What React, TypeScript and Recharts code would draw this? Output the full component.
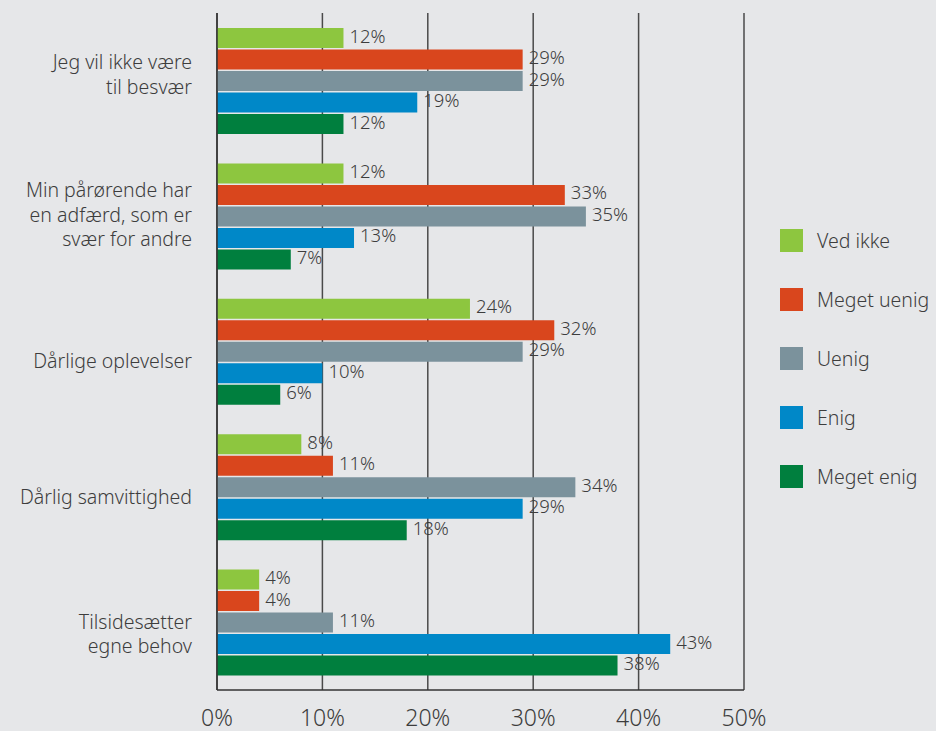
import React from 'react';
import { BarChart, Bar, XAxis, YAxis, CartesianGrid, LabelList } from 'recharts';

const categories = [
  ['Jeg vil ikke være', 'til besvær'],
  ['Min pårørende har', 'en adfærd, som er', 'svær for andre'],
  ['Dårlige oplevelser'],
  ['Dårlig samvittighed'],
  ['Tilsidesætter', 'egne behov'],
];

const vedIkke = [12, 12, 24, 8, 4];
const megetUenig = [29, 33, 32, 11, 4];
const uenig = [29, 35, 29, 34, 11];
const enig = [19, 13, 10, 29, 43];
const megetEnig = [12, 7, 6, 18, 38];

const xTicks = [0, 10, 20, 30, 40, 50];

const series = [
  { key: 'vedIkke', name: 'Ved ikke', color: '#8dc63f' },
  { key: 'megetUenig', name: 'Meget uenig', color: '#d9461d' },
  { key: 'uenig', name: 'Uenig', color: '#7b929c' },
  { key: 'enig', name: 'Enig', color: '#0088c8' },
  { key: 'megetEnig', name: 'Meget enig', color: '#007f3e' },
];

const data = categories.map((lines, i) => ({
  name: lines.join(' '),
  vedIkke: vedIkke[i],
  megetUenig: megetUenig[i],
  uenig: uenig[i],
  enig: enig[i],
  megetEnig: megetEnig[i],
}));

const FONT = '"Noto Sans", "Open Sans", sans-serif';
const TEXT = '#3d3d3d';
// vertical nudge of each category label relative to its band centre
const labelShift = [-7, -2.5, 8, 9, 10.5];

const CategoryTick = (props: any) => {
  const { x, y, payload } = props;
  const lines: string[] = categories[payload.index] || [payload.value];
  const lh = 24.5;
  const start = y + (labelShift[payload.index] || 0) - ((lines.length - 1) * lh) / 2;
  return (
    <text x={x - 17} y={start} textAnchor="end" fill={TEXT} fontSize={19.5} fontFamily={FONT} fontWeight={300} dominantBaseline="central">
      {lines.map((l, i) => (
        <tspan key={i} x={x - 17} y={start + i * lh}>{l}</tspan>
      ))}
    </text>
  );
};

export default function App() {
  return (
    <div style={{ position: 'absolute', left: 0, top: 0, width: 936, height: 731, background: '#e6e7e9', overflow: 'hidden' }}>
      <BarChart
        width={936}
        height={731}
        data={data}
        layout="vertical"
        margin={{ top: 13, right: 192, bottom: 0, left: 0 }}
        barSize={20}
        barGap={1.5}
        style={{ overflow: 'visible' }}
      >
        <CartesianGrid horizontal={false} vertical stroke="#4a4a4a" strokeWidth={1.5} />
        <XAxis
          type="number"
          domain={[0, 50]}
          ticks={xTicks}
          tickFormatter={(v) => `${v}%`}
          height={41}
          axisLine={{ stroke: '#333', strokeWidth: 1.5 }}
          tickLine={false}
          interval={0}
          tick={{ fill: TEXT, fontSize: 23, fontFamily: FONT, fontWeight: 300, dy: 12 }}
        />
        <YAxis
          type="category"
          dataKey="name"
          width={217}
          axisLine={{ stroke: '#333', strokeWidth: 1.5 }}
          tickLine={false}
          tick={<CategoryTick />}
          interval={0}
        />
        {series.map((s) => (
          <Bar key={s.key} dataKey={s.key} name={s.name} fill={s.color} isAnimationActive={false}>
            <LabelList
              dataKey={s.key}
              position="right"
              offset={6}
              dy={-2}
              formatter={(v: any) => `${v}%`}
              style={{ fill: TEXT, fontSize: 18.5, fontFamily: FONT, fontWeight: 300 }}
            />
          </Bar>
        ))}
      </BarChart>
      <div style={{ position: 'absolute', left: 780, top: 211, fontFamily: FONT }}>
        {series.map((s) => (
          <div key={s.key} style={{ display: 'flex', alignItems: 'center', height: 59 }}>
            <div style={{ width: 23, height: 23, background: s.color, marginRight: 14 }} />
            <span style={{ fontSize: 19.5, fontWeight: 300, color: TEXT }}>{s.name}</span>
          </div>
        ))}
      </div>
    </div>
  );
}
